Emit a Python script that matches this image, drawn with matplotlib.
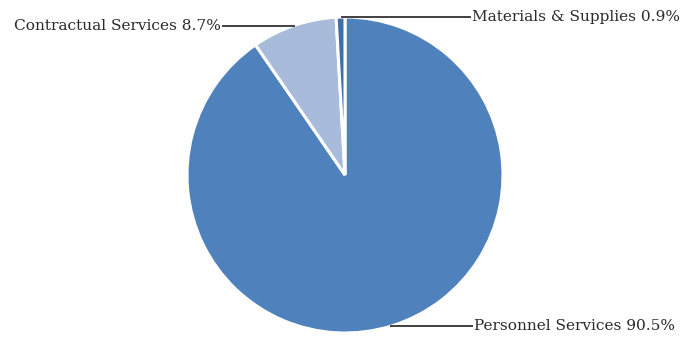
import matplotlib
matplotlib.use('Agg')
import matplotlib.pyplot as plt
import numpy as np

# Data
categories = ['Personnel Services', 'Contractual Services', 'Materials & Supplies']
shares = [90.5, 8.7, 0.9]
colors = ['#4F81BD', '#A9BBDA', '#3F6FA8']

# label side (+1 right, -1 left) and where the text sits (in pie radii)
label_side = [1, -1, 1]
label_x = [0.81, -0.78, 0.80]

plt.rcParams['font.family'] = ['DejaVu Serif']

W, H = 685, 338
R = 158.0
cx, cy = 345.0, 175.0

fig = plt.figure(figsize=(W / 100, H / 100), dpi=100)
ax = fig.add_axes([0, 0, 1, 1])

wedges, _ = ax.pie(shares, colors=colors, startangle=90, counterclock=False,
                   radius=1.0, wedgeprops=dict(edgecolor='white', linewidth=2.2))

# pie() resets the limits, so set them afterwards
ax.set_xlim(-cx / R, (W - cx) / R)
ax.set_ylim(-(H - cy) / R, cy / R)
ax.set_aspect('equal')
ax.axis('off')

for w, cat, val, side, lx in zip(wedges, categories, shares, label_side, label_x):
    mid = np.deg2rad((w.theta1 + w.theta2) / 2)
    ex, ey = np.cos(mid) * 0.97, np.sin(mid) * 1.0
    ax.plot([ex, lx], [ey, ey], color='#404040', lw=1.4, solid_capstyle='butt',
            clip_on=False, zorder=3)
    ax.text(lx + side * 0.005, ey, f'{cat} {val}%', ha='left' if side > 0 else 'right',
            va='center', fontsize=11.1, color='#2a2a2a')

fig.savefig('out.png', dpi=100)
